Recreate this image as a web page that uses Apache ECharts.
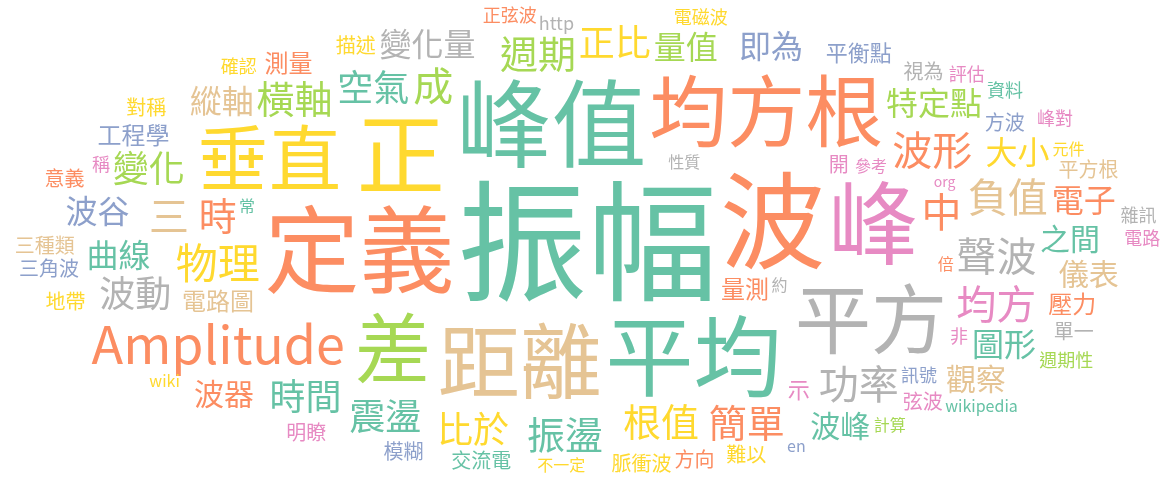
<!DOCTYPE html>
<html>
<head>
<meta charset="utf-8">
<script src="https://cdn.jsdelivr.net/npm/echarts@6/dist/echarts.min.js"></script>
<style>html,body{margin:0;background:#fff}#chart{width:1175px;height:482px}</style>
</head>
<body>
<div id="chart"></div>
<script>
// words, sizes, colours (ordered largest first)
var words = ['振幅','波','定義','峰值','平均','峰','正','距離','均方根','平方','差','垂直','Amplitude',
  '物理','中','波形','聲波','成','負值','均方','功率','三','根值','橫軸','時','週期','簡單','振盪','空氣','比於','震盪',
  '時間','波動','變化','正比','曲線','量值','特定點','大小','圖形','波谷','變化量','縱軸','即為','電子','之間','儀表','觀察',
  '波峰','波器','電路圖','量測','工程學','壓力','測量','平衡點','示','方波','弦波','平方根','描述','視為','單一','難以','方向',
  '脈衝波','交流電','模糊','明瞭','地帶','三角波','三種類','意義','開','對稱','正弦波','訊號','電磁波','確認','評估','資料',
  '非','峰對','週期性','http','雜訊','稱','電路','性質','不一定','約','參考','元件','常','計算','倍','wiki','wikipedia','en','org'];
var sizes = [130,105,95,95,88,90,88,82,78,76,76,72,52,
  42,40,40,40,40,40,40,40,40,38,38,38,38,38,38,36,36,36,
  36,36,36,36,32,32,32,32,32,32,32,32,32,32,30,30,30,
  30,30,24,24,24,24,24,22,22,20,20,20,20,20,20,20,20,
  20,20,20,20,20,20,20,20,20,20,18,18,18,18,18,18,
  18,18,18,18,18,18,18,16,16,16,16,16,16,16,16,16,16,16,14];
var colors = ['#66c2a5','#fc8d62','#fc8d62','#66c2a5','#66c2a5','#e78ac3','#ffd92f','#e5c494','#fc8d62','#b3b3b3','#a6d854','#ffd92f','#fc8d62',
  '#ffd92f','#fc8d62','#fc8d62','#b3b3b3','#a6d854','#e5c494','#e78ac3','#b3b3b3','#e5c494','#ffd92f','#a6d854','#fc8d62','#a6d854','#fc8d62','#66c2a5','#66c2a5','#ffd92f','#66c2a5',
  '#66c2a5','#b3b3b3','#a6d854','#ffd92f','#66c2a5','#a6d854','#a6d854','#ffd92f','#66c2a5','#8da0cb','#b3b3b3','#e5c494','#8da0cb','#fc8d62','#66c2a5','#e5c494','#e5c494',
  '#66c2a5','#fc8d62','#e5c494','#fc8d62','#8da0cb','#fc8d62','#fc8d62','#8da0cb','#e78ac3','#8da0cb','#e78ac3','#e5c494','#ffd92f','#b3b3b3','#b3b3b3','#ffd92f','#fc8d62',
  '#ffd92f','#66c2a5','#8da0cb','#e78ac3','#ffd92f','#8da0cb','#e5c494','#fc8d62','#e78ac3','#ffd92f','#fc8d62','#8da0cb','#ffd92f','#ffd92f','#e78ac3','#66c2a5',
  '#e78ac3','#e78ac3','#a6d854','#b3b3b3','#b3b3b3','#e78ac3','#e78ac3','#b3b3b3','#ffd92f','#b3b3b3','#e78ac3','#ffd92f','#66c2a5','#a6d854','#fc8d62','#ffd92f','#66c2a5','#8da0cb','#e78ac3'];

var W = 1175, H = 482;
var FONT = '"Noto Sans CJK TC", "Noto Sans", sans-serif';

// simple spiral layout, measured with a canvas
function layout() {
	var ctx = document.createElement('canvas').getContext('2d');
	var placed = [], out = [];
	for (var i = 0; i < words.length; i++) {
		var fs = sizes[i];
		ctx.font = fs + 'px ' + FONT;
		var w = ctx.measureText(words[i]).width + 2;
		var h = fs * 1.02 + 2;
		for (var t = 0; t < 400; t += 0.05) {
			var r = 1.6 * t;
			var x = W / 2 + r * Math.cos(t) * 2.4, y = H / 2 + r * Math.sin(t);
			var b = [x - w / 2, y - h / 2, x + w / 2, y + h / 2];
			if (b[0] < 8 || b[1] < 4 || b[2] > W - 8 || b[3] > H - 4) continue;
			var hit = false;
			for (var k = 0; k < placed.length; k++) {
				var p = placed[k];
				if (b[0] < p[2] && b[2] > p[0] && b[1] < p[3] && b[3] > p[1]) { hit = true; break; }
			}
			if (!hit) {
				placed.push(b);
				out.push({ value: [x, y], name: words[i],
					label: { fontSize: fs, color: colors[i] } });
				break;
			}
		}
	}
	return out;
}

var chart = echarts.init(document.getElementById('chart'));
chart.setOption({
	animation: false,
	grid: { left: 0, right: 0, top: 0, bottom: 0 },
	xAxis: { type: 'value', min: 0, max: W, show: false },
	yAxis: { type: 'value', min: 0, max: H, inverse: true, show: false },
	series: [{
		type: 'scatter',
		symbolSize: 0,
		itemStyle: { opacity: 1 },
		data: layout(),
		label: {
			show: true, position: 'inside', formatter: '{b}',
			fontFamily: FONT, lineHeight: 0, opacity: 1
		}
	}]
});
</script>
</body>
</html>
